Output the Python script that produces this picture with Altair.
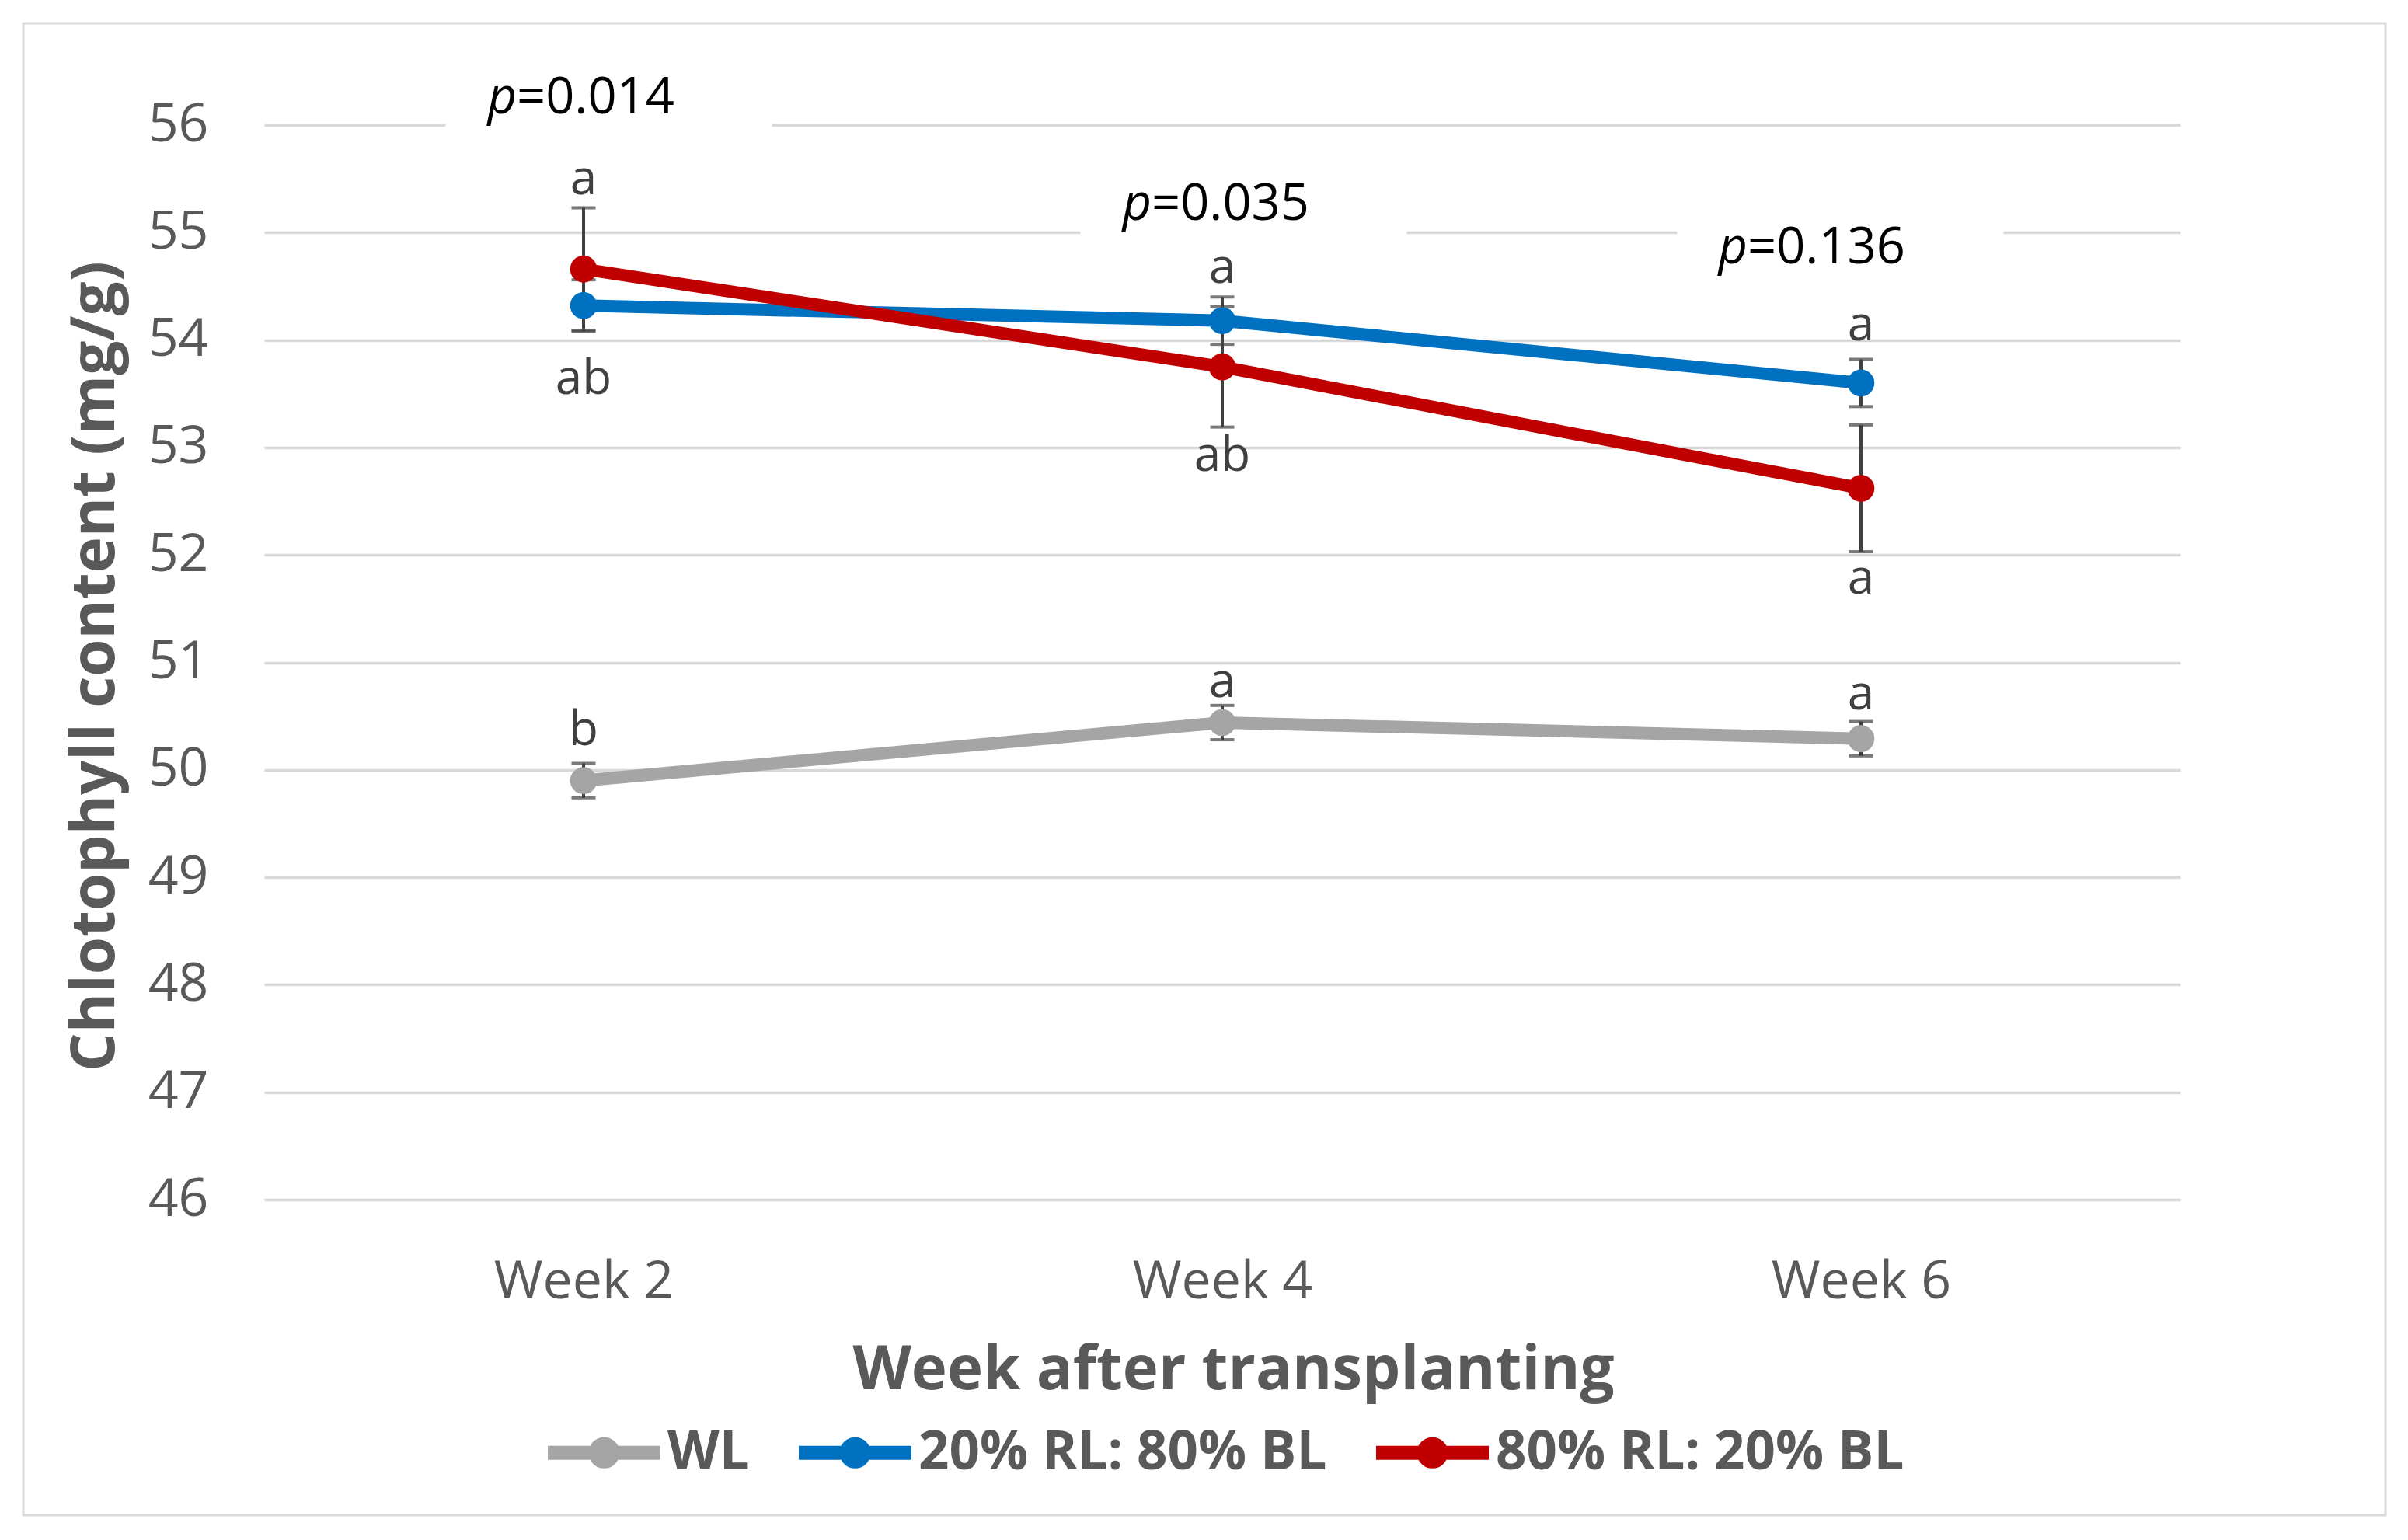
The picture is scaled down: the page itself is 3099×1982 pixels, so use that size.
import altair as alt
import pandas as pd

# ---------------- data ----------------
weeks = ["Week 2", "Week 4", "Week 6"]
series = ["WL", "20% RL: 80% BL", "80% RL: 20% BL"]
colors = ["#A5A5A5", "#0070C0", "#C00000"]
y_ticks = [46, 47, 48, 49, 50, 51, 52, 53, 54, 55, 56]

wl_mean = [49.90, 50.44, 50.29]
wl_err = [0.16, 0.16, 0.16]
blue_mean = [54.32, 54.18, 53.60]
blue_err = [0.24, 0.22, 0.22]
red_mean = [54.66, 53.75, 52.62]
red_err = [0.57, 0.56, 0.59]

wl_letters = ["b", "a", "a"]
wl_letter_y = [50.23, 50.68, 50.56]
blue_letters = ["ab", "a", "a"]
blue_letter_y = [53.50, 54.53, 54.00]
red_letters = ["a", "ab", "a"]
red_letter_y = [55.36, 52.78, 51.64]

p_text = ["=0.014", "=0.035", "=0.136"]
p_y = [56.11, 55.12, 54.71]

# ---------------- layout (pixels) ----------------
W, H = 2466, 1383
p_dx = [-86, -91, -146]
box_dx = [32.5, 27.5, -26.5]

Y_TITLE = "Chlotophyll content (mg/g)"
X_TITLE = "Week after transplanting"

rows = []
for s, m, e, lt, ly in [
    (series[0], wl_mean, wl_err, wl_letters, wl_letter_y),
    (series[1], blue_mean, blue_err, blue_letters, blue_letter_y),
    (series[2], red_mean, red_err, red_letters, red_letter_y),
]:
    for i, w in enumerate(weeks):
        rows.append({"series": s, "week": w, "mean": m[i], "lo": m[i] - e[i],
                     "hi": m[i] + e[i], "letter": lt[i], "letter_y": ly[i]})
df = pd.DataFrame(rows)

xs = alt.Scale(type="point", padding=0.5)
ys = alt.Scale(domain=[46, 56], nice=False, zero=False)
cs = alt.Scale(domain=series, range=colors)


def X():
    return alt.X("week:N", sort=weeks, scale=xs, title=X_TITLE,
                 axis=alt.Axis(labelLimit=1000, labelAngle=0))


def Yf(field):
    return alt.Y(f"{field}:Q", scale=ys, title=Y_TITLE,
                 axis=alt.Axis(values=y_ticks, format="d"))


border = alt.Chart(pd.DataFrame({"a": [0]})).mark_rect(
    fillOpacity=0, stroke="#d9d9d9", strokeWidth=3
).encode(x=alt.value(-310), x2=alt.value(2730), y=alt.value(-131), y2=alt.value(1789))

lines = alt.Chart(df).mark_line(strokeWidth=16).encode(
    x=X(), y=Yf("mean"),
    color=alt.Color("series:N", scale=cs, legend=alt.Legend(
        title=None, orient="none", legendX=356, legendY=1627, direction="horizontal",
        symbolType="M-1,0 L1,0 M0.152,0 A0.152,0.152 0 1,1 -0.152,0 A0.152,0.152 0 1,1 0.152,0",
        symbolSize=21025, symbolStrokeWidth=18, labelOffset=0, columnPadding=27,
        labelFont="Open Sans", labelFontWeight="bold", labelFontSize=69,
        labelColor="#595959", labelLimit=1000)),
    detail="series:N",
)

points = alt.Chart(df).mark_circle(size=1200, opacity=1).encode(
    x=X(), y=Yf("mean"),
    color=alt.Color("series:N", scale=cs, legend=None),
)

err_rules = alt.Chart(df).mark_rule(color="#404040", strokeWidth=4).encode(
    x=X(), y=Yf("lo"), y2="hi:Q"
)
err_lo = alt.Chart(df).mark_tick(color="#404040", thickness=4, size=31).encode(
    x=X(), y=Yf("lo")
)
err_hi = alt.Chart(df).mark_tick(color="#404040", thickness=4, size=31).encode(
    x=X(), y=Yf("hi")
)

letters = alt.Chart(df).mark_text(
    font="Open Sans", fontSize=62, color="#404040", align="center", baseline="alphabetic"
).encode(x=X(), y=Yf("letter_y"), text="letter:N")

p_layers = []
for i in range(3):
    pdf = pd.DataFrame({"week": [weeks[i]], "py": [p_y[i]], "t": [p_text[i]], "p": ["p"]})
    box = alt.Chart(pdf).mark_point(
        shape="M-1,-0.262 L1,-0.262 L1,0.262 L-1,0.262 Z", size=176400,
        filled=True, color="white", opacity=1, xOffset=box_dx[i], yOffset=-21
    ).encode(x=X(), y=Yf("py"))
    pt = alt.Chart(pdf).mark_text(
        font="Open Sans", fontSize=65, fontStyle="italic", color="black",
        align="right", baseline="alphabetic", dx=p_dx[i]
    ).encode(x=X(), y=Yf("py"), text="p:N")
    vt = alt.Chart(pdf).mark_text(
        font="Open Sans", fontSize=65, color="black",
        align="left", baseline="alphabetic", dx=p_dx[i]
    ).encode(x=X(), y=Yf("py"), text="t:N")
    p_layers += [box, pt, vt]

chart = alt.layer(
    border, *p_layers[0::3], err_rules, err_lo, err_hi, lines, points, letters,
    *[l for k, l in enumerate(p_layers) if k % 3 != 0]
).properties(
    width=W, height=H,
    autosize=alt.AutoSizeParams(type="none"),
    padding={"left": 332, "top": 153, "right": 285, "bottom": 430},
    background="white",
).configure_view(stroke=None).configure_axis(
    domain=False, ticks=False, tickSize=0,
    labelFont="Open Sans", labelFontSize=68, labelColor="#595959",
    titleFont="Open Sans", titleFontSize=78, titleFontWeight="bold", titleColor="#595959",
).configure_axisX(
    grid=False, labelPadding=126, labelBaseline="alphabetic",
    titleX=1247, titleY=243, titleBaseline="alphabetic",
).configure_axisY(
    grid=True, gridColor="#d9d9d9", gridWidth=3.5,
    labelPadding=72, titleX=-194, titleY=696, titleBaseline="alphabetic",
)

chart.save("out.html", embed_options={"renderer": "svg", "actions": False})
